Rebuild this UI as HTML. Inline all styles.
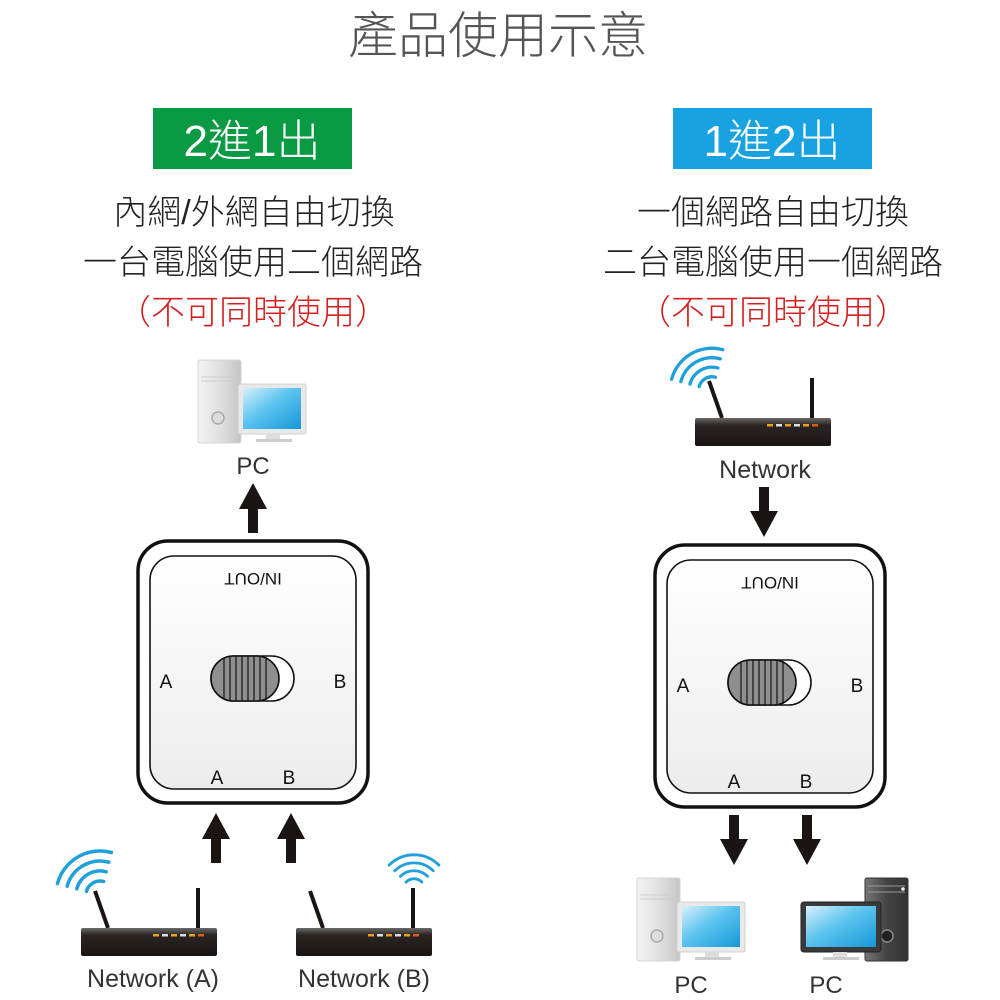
<!DOCTYPE html>
<html><head><meta charset="utf-8">
<style>
html,body{margin:0;padding:0;background:#fff;width:1000px;height:1000px;overflow:hidden}
svg{display:block}
.cjk{font-family:"Liberation Sans","Noto Sans CJK TC",sans-serif;font-weight:300}
.lat{font-family:"Liberation Sans",sans-serif}
</style></head><body>
<svg width="1000" height="1000" viewBox="0 0 1000 1000" xmlns="http://www.w3.org/2000/svg">
<defs>
  <linearGradient id="rb" x1="0" y1="0" x2="0" y2="1">
    <stop offset="0" stop-color="#6a6a6a"/><stop offset="0.25" stop-color="#2a2522"/><stop offset="1" stop-color="#1a1512"/>
  </linearGradient>
  <linearGradient id="scr" x1="0" y1="0" x2="1" y2="1">
    <stop offset="0" stop-color="#d8f0fb"/><stop offset="0.45" stop-color="#5cc4ef"/><stop offset="1" stop-color="#1597d8"/>
  </linearGradient>
  <linearGradient id="tw" x1="0" y1="0" x2="1" y2="0">
    <stop offset="0" stop-color="#f4f4f4"/><stop offset="0.6" stop-color="#dcdcdc"/><stop offset="1" stop-color="#c4c4c4"/>
  </linearGradient>
  <linearGradient id="twd" x1="0" y1="0" x2="1" y2="0">
    <stop offset="0" stop-color="#777"/><stop offset="0.5" stop-color="#444"/><stop offset="1" stop-color="#333"/>
  </linearGradient>
  <linearGradient id="sw" x1="0" y1="0" x2="0" y2="1">
    <stop offset="0" stop-color="#ffffff"/><stop offset="1" stop-color="#ececec"/>
  </linearGradient>
  <g id="waves" fill="none" stroke="#1ea0dd" stroke-width="3.5" stroke-linecap="round">
    <path d="M -13.5,-3.6 A14 14 0 0 1 3.6,-13.5"/>
    <path d="M -23.2,-6.2 A24 24 0 0 1 6.2,-23.2"/>
    <path d="M -32.8,-8.8 A34 34 0 0 1 8.8,-32.8"/>
    <path d="M -42.5,-11.4 A44 44 0 0 1 11.4,-42.5"/>
  </g>
  <g id="router">
    <line x1="14" y1="-37" x2="27" y2="0" stroke="#1a1512" stroke-width="4"/>
    <line x1="117" y1="-40" x2="117" y2="0" stroke="#1a1512" stroke-width="4"/>
    <rect x="0" y="0" width="136" height="28" rx="2" fill="url(#rb)"/>
    <rect x="72" y="6" width="6" height="2.5" fill="#f0a020"/>
    <rect x="81" y="6" width="6" height="2.5" fill="#ddd"/>
    <rect x="90" y="6" width="6" height="2.5" fill="#f0a020"/>
    <rect x="99" y="6" width="6" height="2.5" fill="#ddd"/>
    <rect x="108" y="6" width="6" height="2.5" fill="#f0a020"/>
    <rect x="117" y="6" width="6" height="2.5" fill="#e05a10"/>
  </g>
  <g id="pc">
    <rect x="0" y="0" width="43" height="83" rx="2" fill="url(#tw)" stroke="#d4d4d4"/>
    <line x1="3" y1="17" x2="40" y2="17" stroke="#ccc"/>
    <line x1="3" y1="21" x2="40" y2="21" stroke="#ccc"/>
    <circle cx="20" cy="58" r="6" fill="#ddd" stroke="#aaa" stroke-width="1.5"/>
    <rect x="40" y="24" width="68" height="50" rx="2" fill="#e9e9e9" stroke="#cfcfcf"/>
    <rect x="45" y="28" width="58" height="41" fill="url(#scr)"/>
    <rect x="68" y="74" width="14" height="5" fill="#ddd"/>
    <rect x="58" y="79" width="36" height="3" fill="#ccc"/>
  </g>
  <g id="pcdark">
    <rect x="64" y="0" width="43" height="83" rx="2" fill="url(#twd)" stroke="#333"/>
    <line x1="67" y1="8" x2="104" y2="8" stroke="#999"/>
    <line x1="67" y1="14" x2="104" y2="14" stroke="#999"/>
    <circle cx="102" cy="11" r="1.8" fill="#eee"/>
    <circle cx="86" cy="58" r="6" fill="#222" stroke="#888" stroke-width="1.5"/>
    <rect x="0" y="24" width="80" height="50" rx="3" fill="#3a3a3a" stroke="#222"/>
    <rect x="5" y="28" width="70" height="41" fill="url(#scr)"/>
    <rect x="32" y="74" width="14" height="5" fill="#ddd"/>
    <rect x="22" y="79" width="36" height="3" fill="#ccc"/>
  </g>
  <g id="switch">
    <rect x="0" y="0" width="230" height="262" rx="30" fill="#fff" stroke="#111" stroke-width="3.5"/>
    <rect x="12" y="15" width="206" height="233" rx="24" fill="url(#sw)" stroke="#111" stroke-width="1.6"/>
    <text x="115" y="46" transform="rotate(180 115 39)" text-anchor="middle" font-size="17" class="lat" fill="#111">IN/OUT</text>
    <text x="28" y="147" font-size="19" class="lat" fill="#111" text-anchor="middle">A</text>
    <text x="202" y="147" font-size="19" class="lat" fill="#111" text-anchor="middle">B</text>
    <text x="79" y="243" font-size="19" class="lat" fill="#111" text-anchor="middle">A</text>
    <text x="151" y="243" font-size="19" class="lat" fill="#111" text-anchor="middle">B</text>
    <rect x="73" y="115" width="83" height="45" rx="22.5" fill="#fff" stroke="#111" stroke-width="1.6"/>
    <path d="M 95.5,115 H 118.5 A 22.5 22.5 0 0 1 118.5,160 H 95.5 A 22.5 22.5 0 0 1 95.5,115 Z" fill="#8f8f8f" stroke="#111" stroke-width="1.6"/>
    <g stroke="#111" stroke-width="1.2">
      <line x1="86" y1="117" x2="86" y2="158"/><line x1="92" y1="115" x2="92" y2="160"/>
      <line x1="98" y1="115" x2="98" y2="160"/><line x1="104" y1="115" x2="104" y2="160"/>
      <line x1="110" y1="115" x2="110" y2="160"/><line x1="116" y1="115" x2="116" y2="160"/>
      <line x1="122" y1="115" x2="122" y2="160"/><line x1="128" y1="116" x2="128" y2="159"/>
    </g>
  </g>
  <g id="aup"><polygon points="0,0 14,26 5,26 5,50 -5,50 -5,26 -14,26" fill="#1a1512"/></g>
  <g id="adn"><polygon points="0,50 14,24 5,24 5,0 -5,0 -5,24 -14,24" fill="#1a1512"/></g>
</defs>

<text x="498" y="53" text-anchor="middle" font-size="50" class="cjk" fill="#555">產品使用示意</text>

<rect x="153" y="108" width="199" height="61" fill="#0a9a44"/>
<text x="252" y="156" text-anchor="middle" font-size="44" class="cjk" fill="#fff">2進1出</text>
<rect x="673" y="108" width="199" height="61" fill="#19a2e2"/>
<text x="772" y="156" text-anchor="middle" font-size="44" class="cjk" fill="#fff">1進2出</text>

<g class="cjk" font-size="34" text-anchor="middle">
<text x="254" y="224" fill="#222">內網/外網自由切換</text>
<text x="253" y="274" fill="#222">一台電腦使用二個網路</text>
<text x="253" y="324" fill="#d42020">（不可同時使用）</text>
<text x="773" y="224" fill="#222">一個網路自由切換</text>
<text x="773" y="274" fill="#222">二台電腦使用一個網路</text>
<text x="773" y="324" fill="#d42020">（不可同時使用）</text>
</g>

<!-- Left diagram -->
<use href="#pc" x="198" y="360"/>
<text x="253" y="474" text-anchor="middle" font-size="24" class="lat" fill="#333">PC</text>
<use href="#aup" x="253" y="483"/>
<use href="#switch" x="138" y="541"/>
<use href="#aup" x="216" y="813"/>
<use href="#aup" x="291" y="813"/>
<use href="#waves" transform="translate(100,895)"/>
<use href="#router" x="81" y="928"/>
<use href="#waves" transform="translate(414,890) rotate(30) scale(0.8)"/>
<use href="#router" x="296" y="928"/>
<text x="153" y="987" text-anchor="middle" font-size="25" class="lat" fill="#333">Network (A)</text>
<text x="364" y="987" text-anchor="middle" font-size="25" class="lat" fill="#333">Network (B)</text>

<!-- Right diagram -->
<use href="#waves" transform="translate(712,390) scale(0.95)"/>
<use href="#router" x="695" y="418"/>
<text x="765" y="478" text-anchor="middle" font-size="25" class="lat" fill="#333">Network</text>
<use href="#adn" x="764" y="487"/>
<use href="#switch" x="655" y="545"/>
<use href="#adn" x="734" y="815"/>
<use href="#adn" x="807" y="815"/>
<use href="#pc" x="637" y="878"/>
<use href="#pcdark" x="801" y="878"/>
<text x="691" y="993" text-anchor="middle" font-size="24" class="lat" fill="#333">PC</text>
<text x="826" y="993" text-anchor="middle" font-size="24" class="lat" fill="#333">PC</text>
</svg>
</body></html>
